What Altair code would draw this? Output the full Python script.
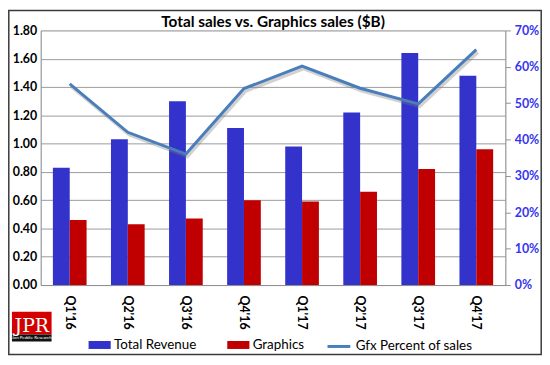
import altair as alt
import pandas as pd

quarters = ["Q1'16", "Q2'16", "Q3'16", "Q4'16", "Q1'17", "Q2'17", "Q3'17", "Q4'17"]
total_revenue = [0.83, 1.03, 1.30, 1.11, 0.98, 1.22, 1.64, 1.48]
graphics = [0.46, 0.43, 0.47, 0.60, 0.59, 0.66, 0.82, 0.96]
gfx_pct = [0.553, 0.420, 0.360, 0.540, 0.602, 0.541, 0.498, 0.647]
series_names = ["Total Revenue", "Graphics"]
line_name = "Gfx Percent of sales"
title_text = "Total sales vs. Graphics sales ($B)"
left_ticks = [0, 0.2, 0.4, 0.6, 0.8, 1.0, 1.2, 1.4, 1.6, 1.8]
right_ticks = [0, 0.1, 0.2, 0.3, 0.4, 0.5, 0.6, 0.7]

FONT = "Lato"
W, H = 469, 257

bars_df = pd.DataFrame({
    "quarter": quarters * 2,
    "series": [series_names[0]] * len(quarters) + [series_names[1]] * len(quarters),
    "value": total_revenue + graphics,
})
line_df = pd.DataFrame({"quarter": quarters, "pct": gfx_pct, "name": [line_name] * len(quarters)})
one = pd.DataFrame({"a": [0]})

xenc = alt.X("quarter:N", sort=quarters,
             scale=alt.Scale(paddingInner=0.42, paddingOuter=0.21),
             axis=alt.Axis(title=None, labelAngle=90, labelFontWeight="bold", labelFontSize=12.5,
                           labelFont=FONT, labelColor="#000000", ticks=False, domainColor="#909090",
                           labelPadding=10, labelAlign="left", labelBaseline="middle"))

bars = alt.Chart(bars_df).mark_bar(stroke=None).encode(
    x=xenc,
    xOffset=alt.XOffset("series:N", sort=series_names),
    y=alt.Y("value:Q", scale=alt.Scale(domain=[0, 1.8], nice=False),
            axis=alt.Axis(title=None, values=left_ticks, format=".2f", labelFontWeight="bold",
                          labelFontSize=12.5, labelFont=FONT, labelColor="#000000",
                          gridColor="#9a9a9a", gridWidth=1, domainColor="#909090", ticks=False,
                          labelPadding=4)),
    color=alt.Color("series:N", sort=series_names,
                    scale=alt.Scale(domain=series_names, range=["#3333CC", "#C00000"]),
                    legend=alt.Legend(title=None, orient="none", legendX=48, legendY=306,
                                      direction="horizontal", symbolType="M-1,-0.36H1V0.36H-1Z",
                                      symbolSize=500, symbolStrokeWidth=0, labelFont=FONT,
                                      labelFontSize=13.5, labelColor="#000000", labelOffset=3,
                                      columnPadding=30, symbolOpacity=1)),
)

right_axis = alt.Axis(title=None, orient="right", values=right_ticks, format=".0%",
                      labelFontWeight="bold", labelFontSize=12.5, labelFont=FONT,
                      labelColor="#3535F0", grid=False, domainColor="#909090",
                      tickColor="#909090", tickSize=5, labelPadding=4)
yscale_r = alt.Scale(domain=[0, 0.7], nice=False)

shadow = alt.Chart(line_df).mark_line(strokeWidth=3.5, color="#7a7a7a", opacity=0.35,
                                      xOffset=1.5, yOffset=2.5).encode(
    x=alt.X("quarter:N", sort=quarters),
    y=alt.Y("pct:Q", scale=yscale_r, axis=right_axis),
)
line = alt.Chart(line_df).mark_line(strokeWidth=3).encode(
    x=alt.X("quarter:N", sort=quarters),
    y=alt.Y("pct:Q", scale=yscale_r, axis=right_axis),
    stroke=alt.Stroke("name:N", scale=alt.Scale(domain=[line_name], range=["#4A7EBB"]),
                      legend=alt.Legend(title=None, orient="none", legendX=288, legendY=306,
                                        symbolType="stroke", symbolSize=529, symbolStrokeWidth=3,
                                        labelFont=FONT, labelFontSize=13.5, labelColor="#000000",
                                        labelOffset=4)),
)
line_layer = alt.layer(shadow, line)

frame = alt.Chart(one).mark_rect(fill=None, stroke="#3a3a3a", strokeWidth=1.5).encode(
    x=alt.value(-32.2), x2=alt.value(505.2), y=alt.value(-20.2), y2=alt.value(327.2))

title = alt.Chart(one).mark_text(font=FONT, fontSize=15.5, fontWeight="bold", color="#000000",
                                 align="center", baseline="alphabetic").encode(
    x=alt.value(W / 2), y=alt.value(-3), text=alt.value(title_text))

logo_box = alt.Chart(one).mark_rect(fill="#D40000").encode(
    x=alt.value(-29), x2=alt.value(11), y=alt.value(284), y2=alt.value(307))
logo_strip = alt.Chart(one).mark_rect(fill="#111111").encode(
    x=alt.value(-29), x2=alt.value(11), y=alt.value(307), y2=alt.value(314))
logo_text = alt.Chart(one).mark_text(font="DejaVu Serif", fontSize=19, color="#ffffff",
                                      align="center", baseline="alphabetic").encode(
    x=alt.value(-9), y=alt.value(304), text=alt.value("JPR"))
logo_sub = alt.Chart(one).mark_text(font=FONT, fontSize=4.5, color="#ffffff",
                                     align="center", baseline="middle").encode(
    x=alt.value(-9), y=alt.value(310.5), text=alt.value("Jon Peddie Research"))

chart = alt.layer(bars, line_layer, frame, title, logo_box, logo_strip, logo_text, logo_sub).resolve_scale(
    y="independent", color="independent"
).properties(
    width=W, height=H,
    padding={"left": 33, "top": 21, "right": 37, "bottom": 71},
    autosize=alt.AutoSizeParams(type="none"),
).configure_view(stroke=None).configure(background="#ffffff")

chart.save("out.html", embed_options={"renderer": "svg", "actions": False})
